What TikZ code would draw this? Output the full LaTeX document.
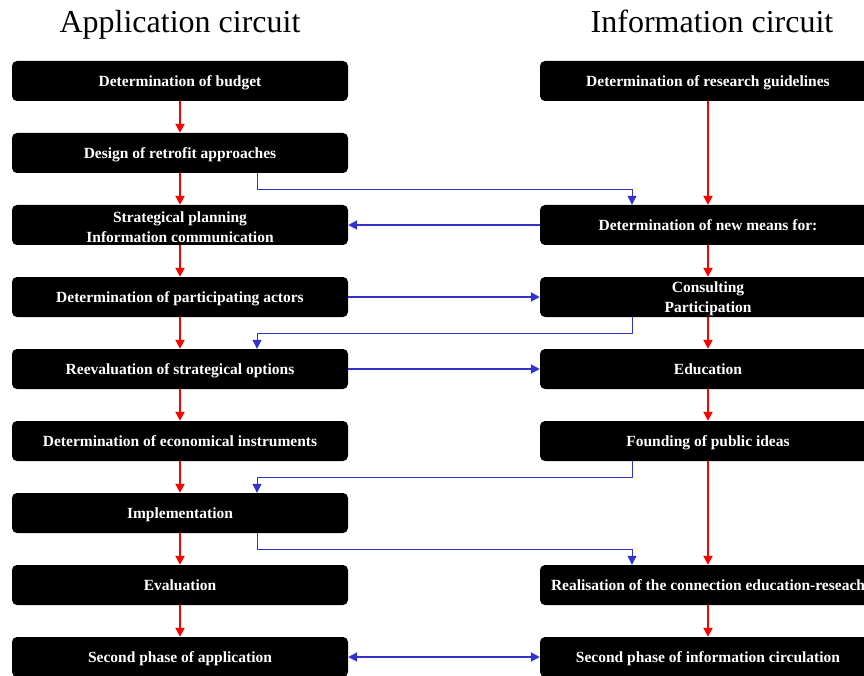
\documentclass[tikz,border=0pt]{standalone}
\usepackage{fontspec}
\setmainfont{Liberation Serif}
\usetikzlibrary{arrows.meta}
\definecolor{cblue}{RGB}{51,51,204}
\newcommand{\topstrut}{\rule{0pt}{15pt}}
\tikzset{
  box/.style={fill=black, rounded corners=5pt, minimum width=336pt, minimum height=40pt,
    text=white, font=\bfseries\fontsize{15.5}{20}\selectfont, align=center, inner sep=0pt},
  one/.style={box, text height=11pt, text depth=0pt},
  two/.style={box},
  redarr/.style={draw=red, line width=2pt, -{Triangle[length=9pt,width=9pt]}},
  bluethick/.style={draw=cblue, line width=2pt, -{Triangle[length=9pt,width=9pt]}},
  bluethin/.style={draw=cblue, line width=1pt, -{Triangle[length=9pt,width=9pt]}},
  title/.style={font=\fontsize{32}{36}\selectfont, anchor=base}
}
\begin{document}
\begin{tikzpicture}[x=1pt,y=-1pt]
\useasboundingbox (0,0) rectangle (864,676);
\node[title] (tl) at (180,33) {Application circuit};
\node[title] (tr) at (712,33) {Information circuit};
% left column
\node[one] (l1) at (180,81) {Determination of budget};
\node[one] (l2) at (180,153) {Design of retrofit approaches};
\node[two] (l3) at (180,225) {\topstrut Strategical planning\\Information communication};
\node[one] (l4) at (180,297) {Determination of participating actors};
\node[one] (l5) at (180,369) {Reevaluation of strategical options};
\node[one] (l6) at (180,441) {Determination of economical instruments};
\node[one] (l7) at (180,513) {Implementation};
\node[one] (l8) at (180,585) {Evaluation};
\node[one] (l9) at (180,657) {Second phase of application};
% right column
\node[one] (r1) at (708,81) {Determination of research guidelines};
\node[one] (r3) at (708,225) {Determination of new means for:};
\node[two] (r4) at (708,297) {\topstrut Consulting\\Participation};
\node[one] (r5) at (708,369) {Education};
\node[one] (r6) at (708,441) {Founding of public ideas};
\node[one] (r8) at (708,585) {Realisation of the connection education-reseach};
\node[one] (r9) at (708,657) {Second phase of information circulation};
% red arrows left
\foreach \a/\b in {l1/l2,l2/l3,l3/l4,l4/l5,l5/l6,l6/l7,l7/l8,l8/l9}{
  \draw[redarr] (\a.south) -- (\b.north);
}
% red arrows right
\foreach \a/\b in {r1/r3,r3/r4,r4/r5,r5/r6,r6/r8,r8/r9}{
  \draw[redarr] (\a.south) -- (\b.north);
}
% blue connectors
\draw[bluethin] ([xshift=77pt]l2.south) -- ++(0,16) -| ([xshift=-76pt]r3.north);
\draw[bluethick] (r3.west) -- (l3.east);
\draw[bluethick] (l4.east) -- (r4.west);
\draw[bluethin] ([xshift=-76pt]r4.south) -- ++(0,16) -| ([xshift=77pt]l5.north);
\draw[bluethick] (l5.east) -- (r5.west);
\draw[bluethin] ([xshift=-76pt]r6.south) -- ++(0,16) -| ([xshift=77pt]l7.north);
\draw[bluethin] ([xshift=77pt]l7.south) -- ++(0,16) -| ([xshift=-76pt]r8.north);
\draw[bluethick, {Triangle[length=9pt,width=9pt]}-{Triangle[length=9pt,width=9pt]}] (l9.east) -- (r9.west);
\end{tikzpicture}
\end{document}
